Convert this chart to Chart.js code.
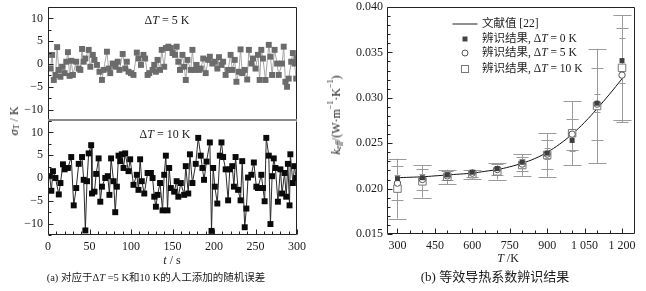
<!DOCTYPE html>
<html><head><meta charset="utf-8">
<script src="https://cdn.jsdelivr.net/npm/chart.js@4.4.0/dist/chart.umd.min.js"></script>
<style>
body{margin:0;background:#fff;width:646px;height:291px;overflow:hidden;position:relative;font-family:"Liberation Serif","Noto Sans CJK SC",serif;color:#1a1a1a;}
canvas{position:absolute;}
.t{position:absolute;white-space:nowrap;font-size:12px;line-height:1;font-weight:normal;transform:translate(-50%,-50%);}
.v{position:absolute;white-space:nowrap;font-size:12px;line-height:1;writing-mode:vertical-rl;transform:translate(-50%,-50%) rotate(180deg);}
.v sub,.v sup{font-size:8px;line-height:0;}
.lg{position:absolute;white-space:nowrap;font-size:11.5px;line-height:1;transform:translateY(-50%);}
.sym{position:absolute;transform:translate(-50%,-50%);box-sizing:border-box;}
i{font-style:italic;}
</style></head><body>
<canvas id="c1" width="320" height="122" style="left:0;top:0"></canvas>
<canvas id="c2" width="320" height="140" style="left:0;top:121px"></canvas>
<canvas id="c3" width="326" height="262" style="left:320px;top:0"></canvas>

<div class="v" style="left:14px;top:121px"><i>σ</i><sub>T</sub> / K</div>
<div class="t" style="left:167px;top:20px">Δ<i>T</i> = 5 K</div>
<div class="t" style="left:165px;top:134px">Δ<i>T</i> = 10 K</div>
<div class="t" style="left:172px;top:260px"><i>t</i> / s</div>
<div class="t" style="left:156px;top:278px;font-size:10.5px">(a) 对应于Δ<i>T</i> =5 K和10 K的人工添加的随机误差</div>

<div class="v" style="left:336px;top:115px"><i>k</i><sub><i>eff</i></sub>/(W·m<sup>−1</sup>·K<sup>−1</sup>)</div>
<div class="t" style="left:508px;top:258px"><i>T</i> /K</div>
<div class="t" style="left:495px;top:276px;font-size:13px">(b) 等效导热系数辨识结果</div>

<div class="sym" style="left:465px;top:24px;width:25px;height:1px;background:#222"></div>
<div class="lg" style="left:482px;top:24px">文献值 [22]</div>
<div class="sym" style="left:465px;top:39px;width:5px;height:5px;background:#444"></div>
<div class="lg" style="left:482px;top:39px">辨识结果, Δ<i>T</i> = 0 K</div>
<div class="sym" style="left:465px;top:53px;width:7px;height:7px;border:1px solid #555;border-radius:50%;background:#fff"></div>
<div class="lg" style="left:482px;top:53px">辨识结果, Δ<i>T</i> = 5 K</div>
<div class="sym" style="left:465px;top:69px;width:8px;height:8px;border:1px solid #777;background:#fff"></div>
<div class="lg" style="left:482px;top:69px">辨识结果, Δ<i>T</i> = 10 K</div>

<script>
// ---- Panel (a), ΔT = 5 K ----
const timesA=[3,5,7,9,11,13,15,17,20,22,24,26,28,30,34,37,39,41,43,45,49,51,54,56,59,62,65,67,71,73,75,78,81,84,86,90,93,95,97,100,103,107,109,112,115,117,120,122,126,128,130,132,135,137,140,142,145,148,150,153,155,157,159,162,164,166,168,172,174,176,179,182,184,187,190,193,195,198,201,204,206,209,211,214,217,220,222,225,227,230,232,234,237,240,242,245,247,250,253,255,257,259,262,266,268,270,273,276,278,282,284,286,288,290,293,295,297,299,300];
const valsA=[-1,2,-3.5,-2.4,3.7,-1.3,-2.8,-0.6,-2,0.5,2.6,-2.6,0.7,-2.4,0.5,-1,-1.3,3.3,0.5,1.2,3.1,-0.6,2,0.9,-0.2,-1.7,-3.5,-1.3,2.7,-1,-2,0.1,-0.6,0.5,-1.3,2.2,-1,0.5,-1.7,-2,-2.4,2.5,1.2,-0.2,2,1.2,-2.4,-2,-1.3,-0.2,-1.7,0.9,-1.3,3.1,-0.6,3.5,3.8,3.5,2.4,2,3.8,0.5,-1.3,2,-0.6,-3.5,0.9,-1.3,3.1,-1.3,-0.2,-1.3,-1,1.2,-2,0.9,1.6,0.1,0.5,-1,1.5,-0.2,0.5,-2.4,-1.3,2,-1.3,0.9,-3.9,-1.7,3.2,-2,-1.3,-3.4,3.1,0.1,1.2,-1,2,-3.5,3.1,1.2,-3.5,4.2,1.6,-2.4,3.1,0.1,-2.4,0.1,3.8,-3.9,-5,-3.2,0.5,2.4,0.1,-3.2,1.2];
// ---- Panel (a), ΔT = 10 K ----
const timesB=[2,4,6,9,13,15,18,20,24,28,31,34,37,41,43,45,47,49,52,53,56,58,61,63,65,69,72,74,76,79,81,83,85,87,89,91,93,97,99,103,107,109,111,113,116,120,124,126,128,130,132,135,138,140,142,144,146,148,152,155,157,160,164,166,169,171,174,178,181,184,186,188,191,195,197,199,201,204,207,209,211,214,217,219,222,224,226,229,232,234,237,239,241,245,248,251,253,257,259,261,263,266,268,270,272,274,277,280,282,285,287,289,291,292,295,297,299];
const valsB=[0.4,-2.8,1.5,0,-3.6,-1.1,3,1.9,2.2,4.6,-6,-2.2,3.1,4.6,-0.4,-11.5,-0.7,5.4,7.2,-3.4,-3,0.9,4.3,-5.2,-1.9,0,0.4,-3.7,4.3,-0.7,-7.5,-1.9,4.9,3.7,5.2,2.2,5.4,1.5,4.1,-1.5,0.7,-2.6,4.1,-0.7,-3.4,1.1,1.1,0,-4.1,-6.3,-3.7,-1.1,-7.1,0.7,4.9,-7.1,2.2,-2.2,-3,-0.7,-4.1,-1.1,-3.7,2.6,-3.4,5.2,-1.1,3.1,8.8,4.9,2.2,-0.4,3.6,7.8,-11.6,2.2,-1.9,-5.6,4.9,7.8,4.6,1.9,-4.9,1.9,2.6,-1.9,4.6,-2.6,-4.9,3.7,-10.8,-6.7,0.1,0.7,3.4,-1.9,-2.2,0.7,-2.2,-5.1,8.8,4.9,-10.1,0.4,4.3,2.2,-5.2,1.9,-3.4,1.1,-4.1,3.1,-6,5.2,-1.1,2.6,0];
const tickTimes=[0,50,100,150,200,250,300];
const tickSigma=[-10,-5,0,5,10];

// ---- Panel (b) ----
const temps=[300,400,500,600,700,800,900,1000,1100,1200];
const k0=[0.0211,0.0212,0.0215,0.0218,0.0222,0.0229,0.0239,0.0253,0.0294,0.0341];
const k5=[0.0206,0.0210,0.0214,0.0217,0.0221,0.0227,0.0238,0.0260,0.0293,0.0325];
const k10=[0.0200,0.0208,0.0213,0.0216,0.0219,0.0226,0.0237,0.0261,0.0291,0.0333];
const err0=[0.0004,0.0004,0.0003,0.0003,0.0003,0.0004,0.0006,0.0012,0.0010,0.0025];
const err5=[0.0019,0.0012,0.0005,0.0004,0.0006,0.0008,0.0016,0.0017,0.0040,0.0052];
const err10=[0.0033,0.0018,0.0008,0.0005,0.0009,0.0012,0.0024,0.0035,0.0063,0.0058];
const refT=[300,350,400,450,500,550,600,650,700,750,800,850,900,950,1000,1050,1100,1150,1200];
const refK=[0.0212,0.02125,0.0213,0.0214,0.0215,0.0216,0.0217,0.0219,0.0221,0.0224,0.0228,0.0233,0.0240,0.0249,0.0260,0.0273,0.0288,0.0304,0.0321];
const tickT=[300,450,600,750,900,1050,1200];
const tickTLabels=['300','450','600','750','900','1 050','1 200'];
const tickK=[0.015,0.020,0.025,0.030,0.035,0.040];

const FONT={family:'"Liberation Serif", serif',size:12};
const TXT='#1a1a1a';

const framePlugin={id:'frame',afterDraw(chart,args,o){
  const {ctx,chartArea:a,scales}=chart; const x=scales.x,y=scales.y;
  ctx.save(); ctx.lineWidth=1; ctx.strokeStyle=o.color||'#222';
  const L=Math.round(a.left)+0.5,R=Math.round(a.right)-0.5,T=Math.round(a.top)+0.5,B=Math.round(a.bottom)-0.5;
  ctx.beginPath();
  if(o.left!==false){ctx.moveTo(L,T);ctx.lineTo(L,B);}
  if(o.right!==false){ctx.moveTo(R,T);ctx.lineTo(R,B);}
  if(o.top!==false){ctx.moveTo(L,T);ctx.lineTo(R,T);}
  if(o.bottom!==false){ctx.moveTo(L,B);ctx.lineTo(R,B);}
  (o.yMajor||[]).forEach(v=>{const p=Math.round(y.getPixelForValue(v))+0.5;ctx.moveTo(L,p);ctx.lineTo(L+5,p);});
  (o.yMinor||[]).forEach(v=>{const p=Math.round(y.getPixelForValue(v))+0.5;ctx.moveTo(L,p);ctx.lineTo(L+3,p);});
  (o.xMajor||[]).forEach(v=>{const p=Math.round(x.getPixelForValue(v))+0.5;ctx.moveTo(p,B);ctx.lineTo(p,B-5);});
  (o.xMinor||[]).forEach(v=>{const p=Math.round(x.getPixelForValue(v))+0.5;ctx.moveTo(p,B);ctx.lineTo(p,B-3);});
  ctx.stroke();
  if(o.sepBottom){ctx.strokeStyle='#8a8a8a';ctx.lineWidth=2;ctx.beginPath();ctx.moveTo(a.left,a.bottom-1);ctx.lineTo(a.right,a.bottom-1);ctx.stroke();}
  ctx.restore();
}};

const errPlugin={id:'errbars',beforeDatasetsDraw(chart){
  const {ctx,scales:{x,y}}=chart; ctx.save(); ctx.strokeStyle='#9a9a9a'; ctx.lineWidth=1;
  chart.data.datasets.forEach(ds=>{ if(!ds.errors) return;
    ds.data.forEach((p,i)=>{const e=ds.errors[i]; if(!e) return;
      const px=Math.round(x.getPixelForValue(p.x))+0.5;
      const t=y.getPixelForValue(p.y+e), b=y.getPixelForValue(p.y-e), c=ds.cap;
      ctx.beginPath(); ctx.moveTo(px,t); ctx.lineTo(px,b);
      ctx.moveTo(px-c,Math.round(t)+0.5); ctx.lineTo(px+c,Math.round(t)+0.5);
      ctx.moveTo(px-c,Math.round(b)+0.5); ctx.lineTo(px+c,Math.round(b)+0.5);
      ctx.stroke();});
  }); ctx.restore();
}};

const minorRange=(a,b,s,skip)=>{const r=[];for(let v=a;v<=b+1e-9;v+=s){const vv=+v.toFixed(6);if(!skip.some(m=>Math.abs(m-vv)<1e-9))r.push(vv);}return r;};
const pts=(xs,ys)=>xs.map((t,i)=>({x:t,y:ys[i]}));
const minus=v=>String(v).replace('-','−');
const noPad=s=>{s.paddingTop=0;s.paddingBottom=0;s.paddingLeft=0;s.paddingRight=0;};

const yLeft={min:-12.5,max:12.5,afterFit:s=>{s.width=48;noPad(s);},afterBuildTicks:s=>{s.ticks=tickSigma.map(v=>({value:v}));},
  grid:{display:false,drawTicks:false},border:{display:false},ticks:{padding:5,font:FONT,color:TXT,callback:v=>minus(v)}};

new Chart(document.getElementById('c1'),{type:'scatter',
  data:{datasets:[{data:pts(timesA,valsA),showLine:true,borderColor:'#a6a6a6',borderWidth:1,pointStyle:'rect',pointRadius:4.2,pointBackgroundColor:'#6b6b6b',pointBorderWidth:0}]},
  options:{responsive:false,animation:false,layout:{autoPadding:false,padding:{top:7,right:23,bottom:1,left:0}},
    plugins:{legend:{display:false},tooltip:{enabled:false},
      frame:{bottom:false,sepBottom:true,yMajor:tickSigma,yMinor:minorRange(-12.5,12.5,2.5,tickSigma)}},
    scales:{x:{type:'linear',min:0,max:300,display:false},y:yLeft}},
  plugins:[framePlugin]});

new Chart(document.getElementById('c2'),{type:'scatter',
  data:{datasets:[{data:pts(timesB,valsB),showLine:true,borderColor:'#2a2a2a',borderWidth:1,pointStyle:'rect',pointRadius:4.2,pointBackgroundColor:'#0a0a0a',pointBorderWidth:0}]},
  options:{responsive:false,animation:false,layout:{autoPadding:false,padding:{top:0,right:23,bottom:0,left:0}},
    plugins:{legend:{display:false},tooltip:{enabled:false},
      frame:{top:false,yMajor:tickSigma,yMinor:minorRange(-12.5,12.5,2.5,tickSigma),xMajor:tickTimes,xMinor:minorRange(0,300,10,tickTimes)}},
    scales:{x:{type:'linear',min:0,max:300,afterFit:s=>{s.height=26;noPad(s);},afterBuildTicks:s=>{s.ticks=tickTimes.map(v=>({value:v}));},
        grid:{display:false,drawTicks:false},border:{display:false},ticks:{padding:5,font:FONT,color:TXT,maxRotation:0}},
      y:yLeft}},
  plugins:[framePlugin]});

new Chart(document.getElementById('c3'),{type:'scatter',
  data:{datasets:[
    {data:pts(temps,k0),errors:err0,cap:3,pointStyle:'rect',pointRadius:3.5,pointBackgroundColor:'#3e3e3e',pointBorderWidth:0},
    {data:pts(temps,k5),errors:err5,cap:6,pointStyle:'circle',pointRadius:3.2,pointBackgroundColor:'#fff',pointBorderColor:'#555',pointBorderWidth:1},
    {data:pts(temps,k10),errors:err10,cap:9,pointStyle:'rect',pointRadius:5.3,pointBackgroundColor:'#fff',pointBorderColor:'#777',pointBorderWidth:1},
    {data:pts(refT,refK),showLine:true,tension:0.4,borderColor:'#111',borderWidth:1,pointRadius:0}
  ]},
  options:{responsive:false,animation:false,layout:{autoPadding:false,padding:{top:7,right:11,bottom:0,left:0}},
    plugins:{legend:{display:false},tooltip:{enabled:false},
      frame:{yMajor:tickK,yMinor:minorRange(0.015,0.040,0.001,tickK),xMajor:tickT,xMinor:minorRange(300,1200,50,tickT)}},
    scales:{x:{type:'linear',min:258,max:1252,afterFit:s=>{s.height=28;noPad(s);},afterBuildTicks:s=>{s.ticks=tickT.map(v=>({value:v}));},
        grid:{display:false,drawTicks:false},border:{display:false},
        ticks:{padding:5,font:FONT,color:TXT,maxRotation:0,autoSkip:false,callback:(v)=>tickTLabels[tickT.indexOf(v)]}},
      y:{min:0.015,max:0.040,afterFit:s=>{s.width=67;noPad(s);},afterBuildTicks:s=>{s.ticks=tickK.map(v=>({value:v}));},
        grid:{display:false,drawTicks:false},border:{display:false},ticks:{padding:4,font:FONT,color:TXT,callback:v=>v.toFixed(3)}}}},
  plugins:[framePlugin,errPlugin]});
</script>
</body></html>
